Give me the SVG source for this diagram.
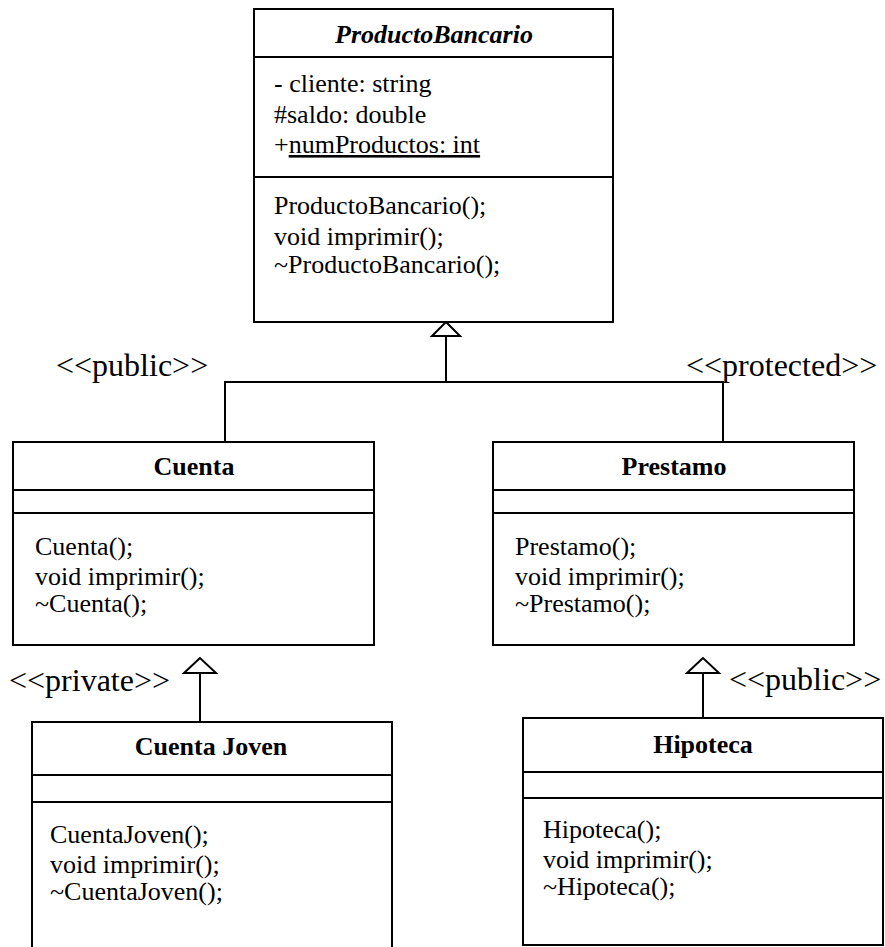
<svg xmlns="http://www.w3.org/2000/svg" width="885" height="947" viewBox="0 0 885 947">
<style>
  .box { fill: #fff; stroke: #000; stroke-width: 2; }
  .div { stroke: #000; stroke-width: 2; }
  .t { font-family: "Liberation Serif", "Times New Roman", serif; font-size: 26px; fill: #000; }
  .title { font-weight: bold; text-anchor: middle; }
  .lbl { font-family: "Liberation Serif", "Times New Roman", serif; font-size: 32px; fill: #000; }
  .conn { fill: none; stroke: #000; stroke-width: 2; }
  .tri { fill: #fff; stroke: #000; stroke-width: 2; stroke-linejoin: miter; }
</style>
<rect width="885" height="947" fill="#fff"/>
<g id="connectors">
  <polyline class="conn" points="446,336 446,382"/>
  <polyline class="conn" points="225,441 225,382 723,382 723,441"/>
  <polygon class="tri" points="446,322 432,336 460,336"/>
  <polyline class="conn" points="200,673 200,721"/>
  <polygon class="tri" points="200,658 184,673 216,673"/>
  <polyline class="conn" points="703,673 703,717"/>
  <polygon class="tri" points="703,658 687,673 719,673"/>
  <text class="lbl" x="56" y="376">&lt;&lt;public&gt;&gt;</text>
  <text class="lbl" x="686" y="376">&lt;&lt;protected&gt;&gt;</text>
  <text class="lbl" x="9" y="691">&lt;&lt;private&gt;&gt;</text>
  <text class="lbl" x="729" y="690">&lt;&lt;public&gt;&gt;</text>
</g>
<g id="ProductoBancario">
  <rect class="box" x="254" y="9" width="359" height="313"/>
  <line class="div" x1="254" y1="57" x2="613" y2="57"/>
  <line class="div" x1="254" y1="177" x2="613" y2="177"/>
  <text class="t title" x="434" y="43" font-style="italic">ProductoBancario</text>
  <text class="t" x="274" y="92">- cliente: string</text>
  <text class="t" x="274" y="123">#saldo: double</text>
  <text class="t" x="274" y="153">+<tspan text-decoration="underline">numProductos: int</tspan></text>
  <text class="t" x="274" y="214">ProductoBancario();</text>
  <text class="t" x="274" y="245">void imprimir();</text>
  <text class="t" x="274" y="273">~ProductoBancario();</text>
</g>
<g id="Cuenta">
  <rect class="box" x="13" y="442" width="361" height="203"/>
  <line class="div" x1="13" y1="490" x2="374" y2="490"/>
  <line class="div" x1="13" y1="513" x2="374" y2="513"/>
  <text class="t title" x="194" y="475">Cuenta</text>
  <text class="t" x="35" y="555">Cuenta();</text>
  <text class="t" x="35" y="585">void imprimir();</text>
  <text class="t" x="35" y="612">~Cuenta();</text>
</g>
<g id="Prestamo">
  <rect class="box" x="493" y="442" width="361" height="203"/>
  <line class="div" x1="493" y1="490" x2="854" y2="490"/>
  <line class="div" x1="493" y1="513" x2="854" y2="513"/>
  <text class="t title" x="674" y="475">Prestamo</text>
  <text class="t" x="515" y="555">Prestamo();</text>
  <text class="t" x="515" y="585">void imprimir();</text>
  <text class="t" x="515" y="612">~Prestamo();</text>
</g>
<g id="CuentaJoven">
  <rect class="box" x="32" y="722" width="360" height="240"/>
  <line class="div" x1="32" y1="775" x2="392" y2="775"/>
  <line class="div" x1="32" y1="802" x2="392" y2="802"/>
  <text class="t title" x="211" y="755">Cuenta Joven</text>
  <text class="t" x="50" y="843">CuentaJoven();</text>
  <text class="t" x="50" y="873">void imprimir();</text>
  <text class="t" x="50" y="900">~CuentaJoven();</text>
</g>
<g id="Hipoteca">
  <rect class="box" x="523" y="718" width="360" height="227"/>
  <line class="div" x1="523" y1="772" x2="883" y2="772"/>
  <line class="div" x1="523" y1="798" x2="883" y2="798"/>
  <text class="t title" x="703" y="753">Hipoteca</text>
  <text class="t" x="543" y="838">Hipoteca();</text>
  <text class="t" x="543" y="868">void imprimir();</text>
  <text class="t" x="543" y="895">~Hipoteca();</text>
</g>
</svg>
